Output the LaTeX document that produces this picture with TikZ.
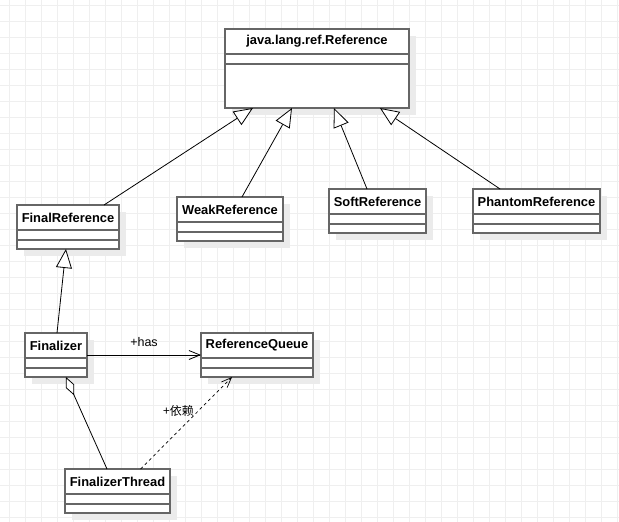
\documentclass[tikz,border=0pt]{standalone}
\usepackage{fontspec}
\setmainfont{Liberation Sans}
\newfontfamily\cjkfont{Noto Sans CJK SC}
\usetikzlibrary{arrows.meta,calc}

\definecolor{gridgray}{HTML}{EFEFEF}
\definecolor{shadowgray}{HTML}{EBEBEB}
\definecolor{boxgray}{HTML}{666666}

\tikzset{
  classbox/.style={draw=boxgray, line width=1.4pt, fill=white, inner sep=0pt, outer sep=0pt, anchor=north west},
  classname/.style={font=\fontsize{12.9}{15}\selectfont\bfseries, inner sep=0pt},
  inherit/.style={-{Triangle[open,length=19pt,width=16pt,fill=white]}, line width=0.8pt},
  assoc/.style={-{Straight Barb[length=11pt,width=9pt]}, line width=0.8pt},
  depend/.style={-{Straight Barb[length=10pt,width=8pt]}, dash pattern=on 3pt off 3pt, line width=0.7pt},
  aggreg/.style={{Diamond[open,length=20pt,width=9pt,fill=white]}-, line width=0.8pt},
  edgelabel/.style={font=\fontsize{12.5}{14}\selectfont, inner sep=1pt}
}

\begin{document}
\begin{tikzpicture}[x=1pt,y=-1pt]
  \useasboundingbox (0,0) rectangle (619,522);
  % background grid
  \foreach \x in {9.3,25.3,...,619}
    \draw[gridgray, line width=1pt] (\x,0) -- (\x,522);
  \foreach \y in {5,21,...,522}
    \draw[gridgray, line width=1pt] (0,\y) -- (619,\y);

  % classes
  \foreach \nm/\xa/\ya/\xb/\yb/\txt in {
      ref/225/29/409/108/java.lang.ref.Reference,
      finalref/17/205/119/249/FinalReference,
      weakref/177/197/283/241/WeakReference,
      softref/329/189/426/233/SoftReference,
      phantomref/473/189/600/233/PhantomReference,
      finalizer/25/333/87/377/Finalizer,
      queue/201/333/313/377/ReferenceQueue,
      thread/65/469/170/513/FinalizerThread}{
    \fill[shadowgray] (\xa+7,\ya+7) rectangle (\xb+7,\yb+7);
    \node[classbox, minimum width={(\xb-\xa)*1pt}, minimum height={(\yb-\ya)*1pt}] (\nm) at (\xa,\ya) {};
    \node[classname] (\nm-title) at ($(\nm.north west)!0.5!(\nm.north east)+(0,12.5)$) {\txt};
    \draw[boxgray, line width=1.4pt]
      ($(\nm.north west)+(0,25)$) -- ($(\nm.north east)+(0,25)$)
      ($(\nm.north west)+(0,35)$) -- ($(\nm.north east)+(0,35)$);
  }

  % generalizations
  \draw[inherit] ($(finalref.north west)!0.853!(finalref.north east)$) -- ($(ref.south west)!0.152!(ref.south east)$);
  \draw[inherit] ($(weakref.north west)!0.613!(weakref.north east)$) -- ($(ref.south west)!0.364!(ref.south east)$);
  \draw[inherit] ($(softref.north west)!0.392!(softref.north east)$) -- ($(ref.south west)!0.592!(ref.south east)$);
  \draw[inherit] ($(phantomref.north west)!0.213!(phantomref.north east)$) -- ($(ref.south west)!0.842!(ref.south east)$);
  \draw[inherit] ($(finalizer.north west)!0.516!(finalizer.north east)$) -- ($(finalref.south west)!0.48!(finalref.south east)$);

  % associations
  \draw[assoc] (finalizer.east) -- (finalizer.east -| queue.west)
    node[edgelabel, midway, above=7pt] {+has};
  \draw[aggreg] ($(finalizer.south west)!0.66!(finalizer.south east)$) -- ($(thread.north west)!0.4!(thread.north east)$);
  \draw[depend] ($(thread.north west)!0.72!(thread.north east)$) -- ($(queue.south west)!0.277!(queue.south east)$)
    node[edgelabel, pos=0.63, anchor=east, xshift=-3pt] {\cjkfont\fontsize{12}{14}\selectfont +依赖};
\end{tikzpicture}
\end{document}
